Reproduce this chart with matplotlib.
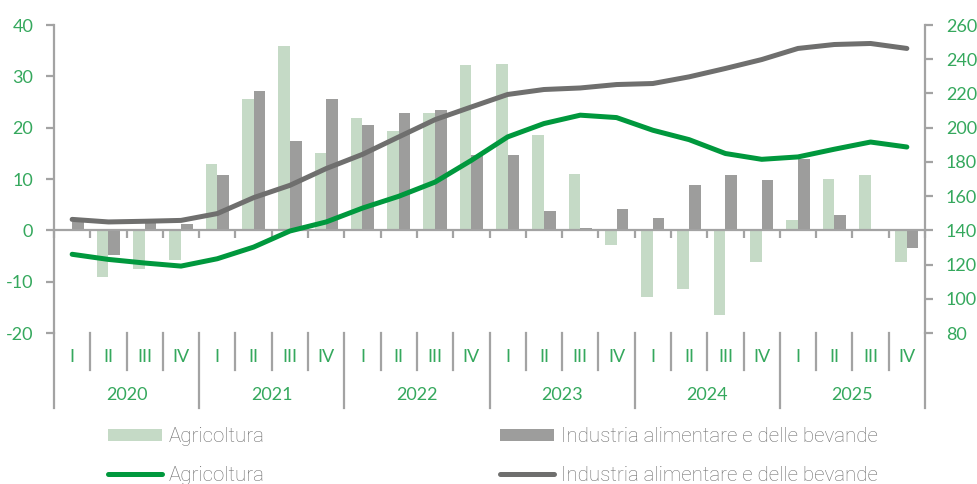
import matplotlib
matplotlib.use("Agg")
import matplotlib.pyplot as plt
from matplotlib import font_manager
from matplotlib.patches import Patch
from matplotlib.lines import Line2D
import numpy as np

# data
years = ["2020", "2021", "2022", "2023", "2024", "2025"]
quarters = ["I", "II", "III", "IV"]

# quarterly changes (%), left axis
agri_bars = [0.2, -9.1, -7.6, -5.8, 13.0, 25.6, 36.0, 15.1, 21.8, 19.3, 22.8, 32.3,
             32.4, 18.6, 11.0, -2.8, -13.0, -11.4, -16.5, -6.2, 2.1, 10.0, 10.7, -6.2]
ind_bars = [1.7, -4.9, 1.5, 1.2, 10.8, 27.2, 17.5, 25.6, 20.6, 22.8, 23.5, 14.6,
            14.6, 3.7, 0.5, 4.1, 2.5, 8.8, 10.7, 9.9, 13.8, 2.9, -0.2, -3.4]

# index levels, right axis
agri_line = [126.0, 123.0, 120.9, 119.1, 123.4, 130.2, 139.6, 144.9, 153.0, 159.9, 168.2, 180.9,
             194.6, 202.4, 207.3, 205.9, 198.5, 193.0, 184.9, 181.5, 182.9, 187.4, 191.6, 188.7]
ind_line = [146.4, 144.9, 145.3, 145.8, 149.8, 159.1, 166.3, 176.1, 184.4, 194.6, 204.7, 212.1,
            219.4, 222.3, 223.2, 225.2, 225.8, 229.7, 234.6, 239.8, 246.3, 248.6, 249.2, 246.3]

labels = ["Agricoltura", "Industria alimentare e delle bevande"]

GREEN_TXT = "#35a85d"
GREEN_LINE = "#00983d"
LIGHT_GREEN = "#c5dac6"
GREY_BAR = "#9d9d9c"
GREY_LINE = "#6f6f6e"
AXIS_GREY = "#a3a3a3"
LEGEND_TXT = "#6e6e6e"

plt.rcParams["axes.unicode_minus"] = False


def pick_font(names):
    for name in names:
        try:
            font_manager.findfont(name, fallback_to_default=False)
            return name
        except Exception:
            continue
    return "DejaVu Sans"


tick_font = pick_font(["Lato", "DejaVu Sans"])
legend_font = pick_font(["Roboto", "DejaVu Sans"])

W, H = 977, 484
fig = plt.figure(figsize=(W / 100, H / 100), dpi=100)

x0, x1, y_top, y_bot = 54, 925, 25, 333
ax = fig.add_axes([x0 / W, 1 - y_bot / H, (x1 - x0) / W, (y_bot - y_top) / H])
ax2 = ax.twinx()

n = len(agri_bars)
centers = np.arange(n) + 0.5
bw = 0.32

ax.bar(centers - bw / 2, agri_bars, width=bw, color=LIGHT_GREEN, zorder=2)
ax.bar(centers + bw / 2, ind_bars, width=bw, color=GREY_BAR, zorder=2)

ax2.plot(centers, ind_line, color=GREY_LINE, lw=3.6, solid_capstyle="round")
ax2.plot(centers, agri_line, color=GREEN_LINE, lw=3.6, solid_capstyle="round")

ax.set_xlim(0, n)
ax.set_ylim(-20, 40)
ax.set_yticks(range(-20, 41, 10))
ax2.set_ylim(80, 260)
ax2.set_yticks(range(80, 261, 20))

for a in (ax, ax2):
    a.spines["top"].set_visible(False)
    for s in a.spines.values():
        s.set_color(AXIS_GREY)
        s.set_linewidth(1.6)
ax.spines["right"].set_visible(False)
ax2.spines["left"].set_visible(False)
ax2.spines["bottom"].set_visible(False)

# zero line with quarter ticks
ax.spines["bottom"].set_position(("data", 0))
ax.set_xticks(np.arange(0, n + 1))
ax.tick_params(axis="x", length=6, width=1.6, color=AXIS_GREY, labelbottom=False, direction="out")
ax.tick_params(axis="y", length=6, width=1.6, color=AXIS_GREY, pad=9,
               labelcolor=GREEN_TXT, labelsize=13)
ax2.tick_params(axis="y", length=6, width=1.6, color=AXIS_GREY, pad=9,
                labelcolor=GREEN_TXT, labelsize=13)
for t in ax.get_yticklabels() + ax2.get_yticklabels():
    t.set_fontfamily(tick_font)

# category axis below the plot
ah = y_bot - y_top
def yfrac(py):
    return (y_bot - py) / ah

trans = ax.get_xaxis_transform()
for k in range(n + 1):
    if k % 4 == 0:
        ytop_line = 0 if k in (0, n) else yfrac(333)
        ax.plot([k, k], [ytop_line, yfrac(408)], color=AXIS_GREY, lw=1.6,
                transform=trans, clip_on=False)
    else:
        ax.plot([k, k], [yfrac(333), yfrac(370)], color=AXIS_GREY, lw=1.6,
                transform=trans, clip_on=False)

for i, c in enumerate(centers):
    ax.text(c, yfrac(357), quarters[i % 4], transform=trans, ha="center", va="center",
            color=GREEN_TXT, fontsize=13, fontfamily=tick_font)
for j, yr in enumerate(years):
    ax.text(4 * j + 2, yfrac(395), yr, transform=trans, ha="center", va="center",
            color=GREEN_TXT, fontsize=13, fontfamily=tick_font)

# two one-column legends, one per series
leg_kw = dict(loc="upper left", frameon=False, borderpad=0, borderaxespad=0,
              handlelength=2.65, handleheight=0.55, handletextpad=0.3, labelspacing=0.98,
              prop={"family": legend_font, "size": 14.8, "weight": "light"})
series = [
    (108, LIGHT_GREEN, GREEN_LINE, labels[0]),
    (500, GREY_BAR, GREY_LINE, labels[1]),
]
for px, bar_c, line_c, lab in series:
    hs = [Patch(facecolor=bar_c, edgecolor="none"),
          Line2D([], [], color=line_c, lw=3.6, solid_capstyle="round")]
    leg = fig.legend(hs, [lab, lab], bbox_to_anchor=(px / W, 1 - 427 / H), **leg_kw)
    for t in leg.get_texts():
        t.set_color(LEGEND_TXT)

fig.savefig("out.png", dpi=100)
